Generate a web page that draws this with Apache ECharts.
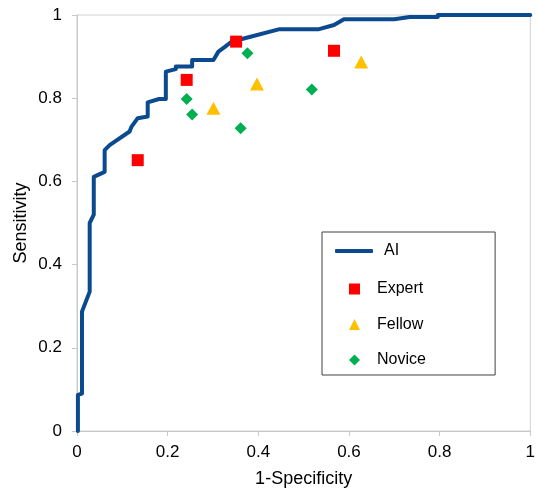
<!DOCTYPE html>
<html>
<head>
<meta charset="utf-8">
<script src="https://cdn.jsdelivr.net/npm/echarts@6/dist/echarts.min.js"></script>
<style>html,body{margin:0;padding:0;background:#fff}#c{width:538px;height:494px}</style>
</head>
<body>
<div id="c"></div>
<script>
// ROC curve of the AI model: [1-specificity, sensitivity]
const aiCurve = [
  [0.002, 0], [0.002, 0.087], [0.011, 0.09], [0.011, 0.287], [0.028, 0.335],
  [0.028, 0.50], [0.037, 0.52], [0.037, 0.611], [0.061, 0.623], [0.061, 0.675],
  [0.072, 0.687], [0.116, 0.72], [0.12, 0.731], [0.134, 0.752], [0.156, 0.756],
  [0.156, 0.79], [0.181, 0.798], [0.196, 0.798], [0.196, 0.864], [0.218, 0.870],
  [0.218, 0.876], [0.254, 0.876], [0.254, 0.892], [0.301, 0.892], [0.312, 0.912],
  [0.327, 0.924], [0.34, 0.935], [0.37, 0.944], [0.447, 0.966], [0.534, 0.966],
  [0.567, 0.976], [0.589, 0.99], [0.70, 0.99], [0.734, 0.995], [0.796, 0.995],
  [0.796, 1], [1, 1]
];
const expertPoints = [[0.134, 0.651], [0.242, 0.844], [0.351, 0.936], [0.567, 0.914]];
const fellowPoints = [[0.301, 0.776], [0.397, 0.834], [0.627, 0.887]];
const novicePoints = [[0.242, 0.798], [0.254, 0.761], [0.361, 0.728], [0.376, 0.908], [0.518, 0.821]];
const axisTicks = [0, 0.2, 0.4, 0.6, 0.8, 1];

const font = 'Liberation Sans, Arial, sans-serif';
const chart = echarts.init(document.getElementById('c'));
const axisCommon = {
  type: 'value', min: 0, max: 1, interval: 0.2,
  axisLine: {show: true, lineStyle: {color: '#c8c8c8', width: 1}},
  axisTick: {show: true, length: 5, lineStyle: {color: '#c8c8c8'}},
  splitLine: {show: false},
  nameLocation: 'middle',
  nameMoveOverlap: false,
  nameTextStyle: {fontFamily: font, fontSize: 18, color: '#000'},
  axisLabel: {fontFamily: font, fontSize: 17, color: '#000',
    formatter: v => { const t = axisTicks.find(a => Math.abs(a - v) < 1e-9); return t === undefined ? '' : String(t); }}
};
chart.setOption({
  animation: false,
  grid: {left: 77, right: 3, top: 15, bottom: 63, show: true, borderColor: '#d0d0d0', borderWidth: 1},
  xAxis: Object.assign({}, axisCommon, {name: '1-Specificity', nameGap: 39,
    axisLabel: Object.assign({}, axisCommon.axisLabel, {margin: 13})}),
  yAxis: Object.assign({}, axisCommon, {name: 'Sensitivity', nameGap: 47,
    axisLabel: Object.assign({}, axisCommon.axisLabel, {margin: 15})}),
  legend: [
    {data: [{name: 'AI', icon: 'roundRect'}], orient: 'vertical', left: 322, top: 232,
     padding: [11, 96, 116, 13], borderColor: '#404040', borderWidth: 1,
     itemWidth: 38, itemHeight: 4,
     textStyle: {fontFamily: font, fontSize: 16, color: '#000', padding: [0, 0, 0, 6]}},
    {data: [{name: 'Expert', icon: 'rect'}, {name: 'Fellow', icon: 'triangle'}, {name: 'Novice', icon: 'diamond'}],
     orient: 'vertical', left: 349, top: 281, padding: 0,
     itemWidth: 11, itemHeight: 11, itemGap: 19.5,
     textStyle: {fontFamily: font, fontSize: 16, color: '#000', padding: [0, 0, 0, 12]}}
  ],
  series: [
    {name: 'AI', type: 'line', data: aiCurve, showSymbol: false, symbol: 'none',
     lineStyle: {color: '#0B4A8E', width: 4, cap: 'round', join: 'round'}, itemStyle: {color: '#0B4A8E'}, z: 2},
    {name: 'Expert', type: 'scatter', data: expertPoints, symbol: 'rect', symbolSize: 12,
     itemStyle: {color: '#FF0000', opacity: 1}, z: 3},
    {name: 'Fellow', type: 'scatter', data: fellowPoints, symbol: 'triangle', symbolSize: [14, 13],
     itemStyle: {color: '#FFC000', opacity: 1}, z: 3},
    {name: 'Novice', type: 'scatter', data: novicePoints, symbol: 'diamond', symbolSize: 12,
     itemStyle: {color: '#00B050', opacity: 1}, z: 3}
  ]
});
</script>
</body>
</html>
